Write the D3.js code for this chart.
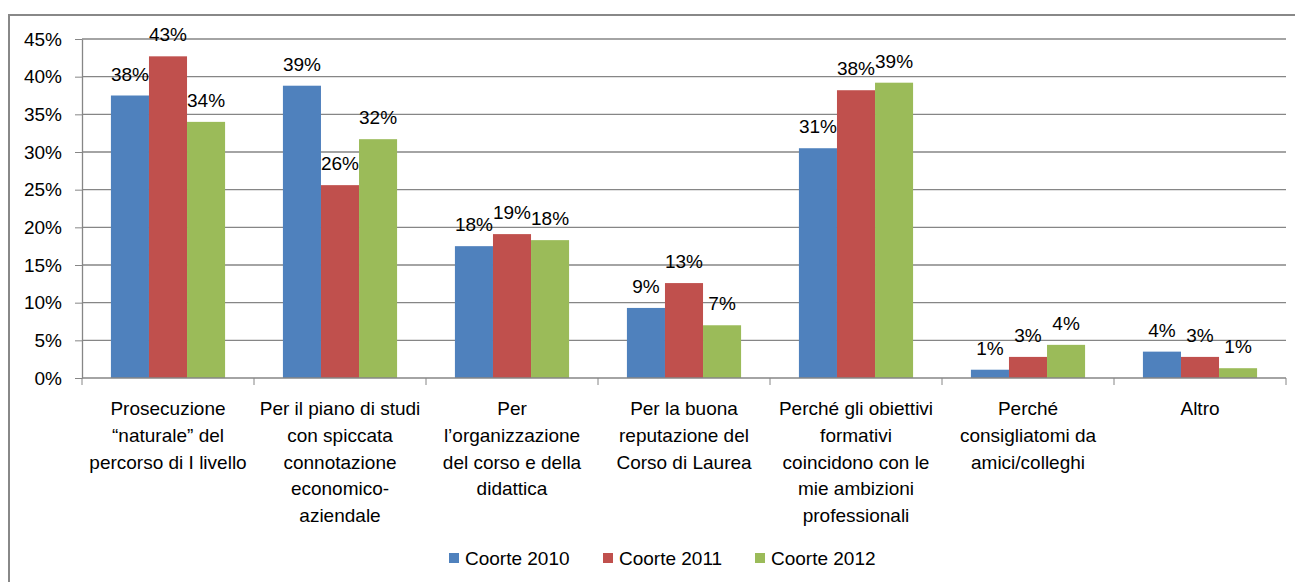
<!DOCTYPE html>
<html>
<head>
<meta charset="utf-8">
<script src="https://cdn.jsdelivr.net/npm/d3@7"></script>
<style>
  body { margin: 0; background: #fff; }
  text { font-family: "Liberation Sans", Arial, sans-serif; fill: #000; }
  .axis path, .axis line { stroke: #868686; }
  .grid line { stroke: #868686; stroke-width: 1.3; }
</style>
</head>
<body>
<div id="chart"></div>
<script>
// categories (each label split on its wrapped lines)
var categories = [
  ["Prosecuzione", "\u201cnaturale\u201d del", "percorso di I livello"],
  ["Per il piano di studi", "con spiccata", "connotazione", "economico-", "aziendale"],
  ["Per", "l\u2019organizzazione", "del corso e della", "didattica"],
  ["Per la buona", "reputazione del", "Corso di Laurea"],
  ["Perch\u00e9 gli obiettivi", "formativi", "coincidono con le", "mie ambizioni", "professionali"],
  ["Perch\u00e9", "consigliatomi da", "amici/colleghi"],
  ["Altro"]
];
var seriesNames = ["Coorte 2010", "Coorte 2011", "Coorte 2012"];
var coorte2010 = [0.375, 0.388, 0.175, 0.093, 0.305, 0.011, 0.035];
var coorte2011 = [0.427, 0.256, 0.191, 0.126, 0.382, 0.028, 0.028];
var coorte2012 = [0.340, 0.317, 0.183, 0.070, 0.392, 0.044, 0.013];
var yTicks = [0, 0.05, 0.10, 0.15, 0.20, 0.25, 0.30, 0.35, 0.40, 0.45];

var colors = ["#4F81BD", "#C0504D", "#9BBB59"];
var series = [coorte2010, coorte2011, coorte2012];

var width = 1295, height = 582;
var margin = { left: 82, right: 9, top: 39, bottom: 204 };
var fontSize = "19px";

var svg = d3.select("#chart").append("svg")
    .attr("width", width)
    .attr("height", height);

// outer frame of the chart
svg.append("rect")
    .attr("x", 9).attr("y", 15)
    .attr("width", width + 20).attr("height", height + 20)
    .attr("fill", "none")
    .attr("stroke", "#888")
    .attr("stroke-width", 2);

var idx = d3.range(categories.length);

var x0 = d3.scaleBand()
    .domain(idx)
    .range([margin.left, width - margin.right])
    .paddingInner(0).paddingOuter(0);

var x1 = d3.scaleBand()
    .domain(d3.range(seriesNames.length))
    .range([0, x0.bandwidth()])
    .paddingInner(0)
    .paddingOuter(0.76);

var y = d3.scaleLinear()
    .domain([0, 0.45])
    .range([height - margin.bottom, margin.top]);

// gridlines
svg.append("g").attr("class", "grid")
  .selectAll("line")
  .data(yTicks.slice(1))
  .enter().append("line")
    .attr("x1", margin.left).attr("x2", width - margin.right)
    .attr("y1", function(d){ return y(d); })
    .attr("y2", function(d){ return y(d); });

// y axis
var yAxis = svg.append("g")
    .attr("class", "axis")
    .attr("transform", "translate(" + margin.left + ",0)")
    .call(d3.axisLeft(y).tickValues(yTicks).tickFormat(d3.format(".0%")).tickSize(7).tickSizeOuter(0));
yAxis.selectAll("text").attr("x", -20).style("font-size", fontSize);
yAxis.select(".domain").attr("stroke-width", 1.3);

// bars
var groups = svg.append("g").selectAll("g")
  .data(idx)
  .enter().append("g")
    .attr("transform", function(i){ return "translate(" + x0(i) + ",0)"; });

groups.selectAll("rect")
  .data(function(i){ return series.map(function(s, k){ return { k: k, v: s[i] }; }); })
  .enter().append("rect")
    .attr("x", function(d){ return x1(d.k); })
    .attr("y", function(d){ return y(d.v); })
    .attr("width", x1.bandwidth())
    .attr("height", function(d){ return y(0) - y(d.v); })
    .attr("fill", function(d){ return colors[d.k]; });

groups.selectAll("text.lbl")
  .data(function(i){ return series.map(function(s, k){ return { k: k, v: s[i] }; }); })
  .enter().append("text")
    .attr("class", "lbl")
    .attr("x", function(d){ return x1(d.k) + x1.bandwidth() / 2; })
    .attr("y", function(d){ return y(d.v) - 15; })
    .attr("text-anchor", "middle")
    .style("font-size", fontSize)
    .text(function(d){ return Math.round(d.v * 100) + "%"; });

// x axis
var xAxis = svg.append("g")
    .attr("class", "axis")
    .attr("transform", "translate(0," + y(0) + ")");
xAxis.append("line")
    .attr("x1", margin.left).attr("x2", width - margin.right)
    .attr("stroke-width", 1.3);
xAxis.selectAll("line.tick")
  .data(idx.concat([categories.length]))
  .enter().append("line")
    .attr("class", "tick")
    .attr("x1", function(i){ return margin.left + i * x0.bandwidth(); })
    .attr("x2", function(i){ return margin.left + i * x0.bandwidth(); })
    .attr("y1", 0).attr("y2", 7);

xAxis.selectAll("text")
  .data(idx)
  .enter().append("text")
    .attr("text-anchor", "middle")
    .attr("transform", function(i){ return "translate(" + (x0(i) + x0.bandwidth() / 2) + ",37)"; })
    .style("font-size", fontSize)
    .each(function(i){
      var t = d3.select(this);
      categories[i].forEach(function(line, j){
        t.append("tspan").attr("x", 0).attr("y", j * 26.8).text(line);
      });
    });

// legend
var legendX = [449, 603, 755];
var legend = svg.append("g").selectAll("g")
  .data(seriesNames)
  .enter().append("g")
    .attr("transform", function(d, k){ return "translate(" + legendX[k] + ",558)"; });
legend.append("rect")
    .attr("x", 0).attr("y", -5)
    .attr("width", 10).attr("height", 10)
    .attr("fill", function(d, k){ return colors[k]; });
legend.append("text")
    .attr("x", 16).attr("y", 7)
    .style("font-size", fontSize)
    .text(function(d){ return d; });
</script>
</body>
</html>
